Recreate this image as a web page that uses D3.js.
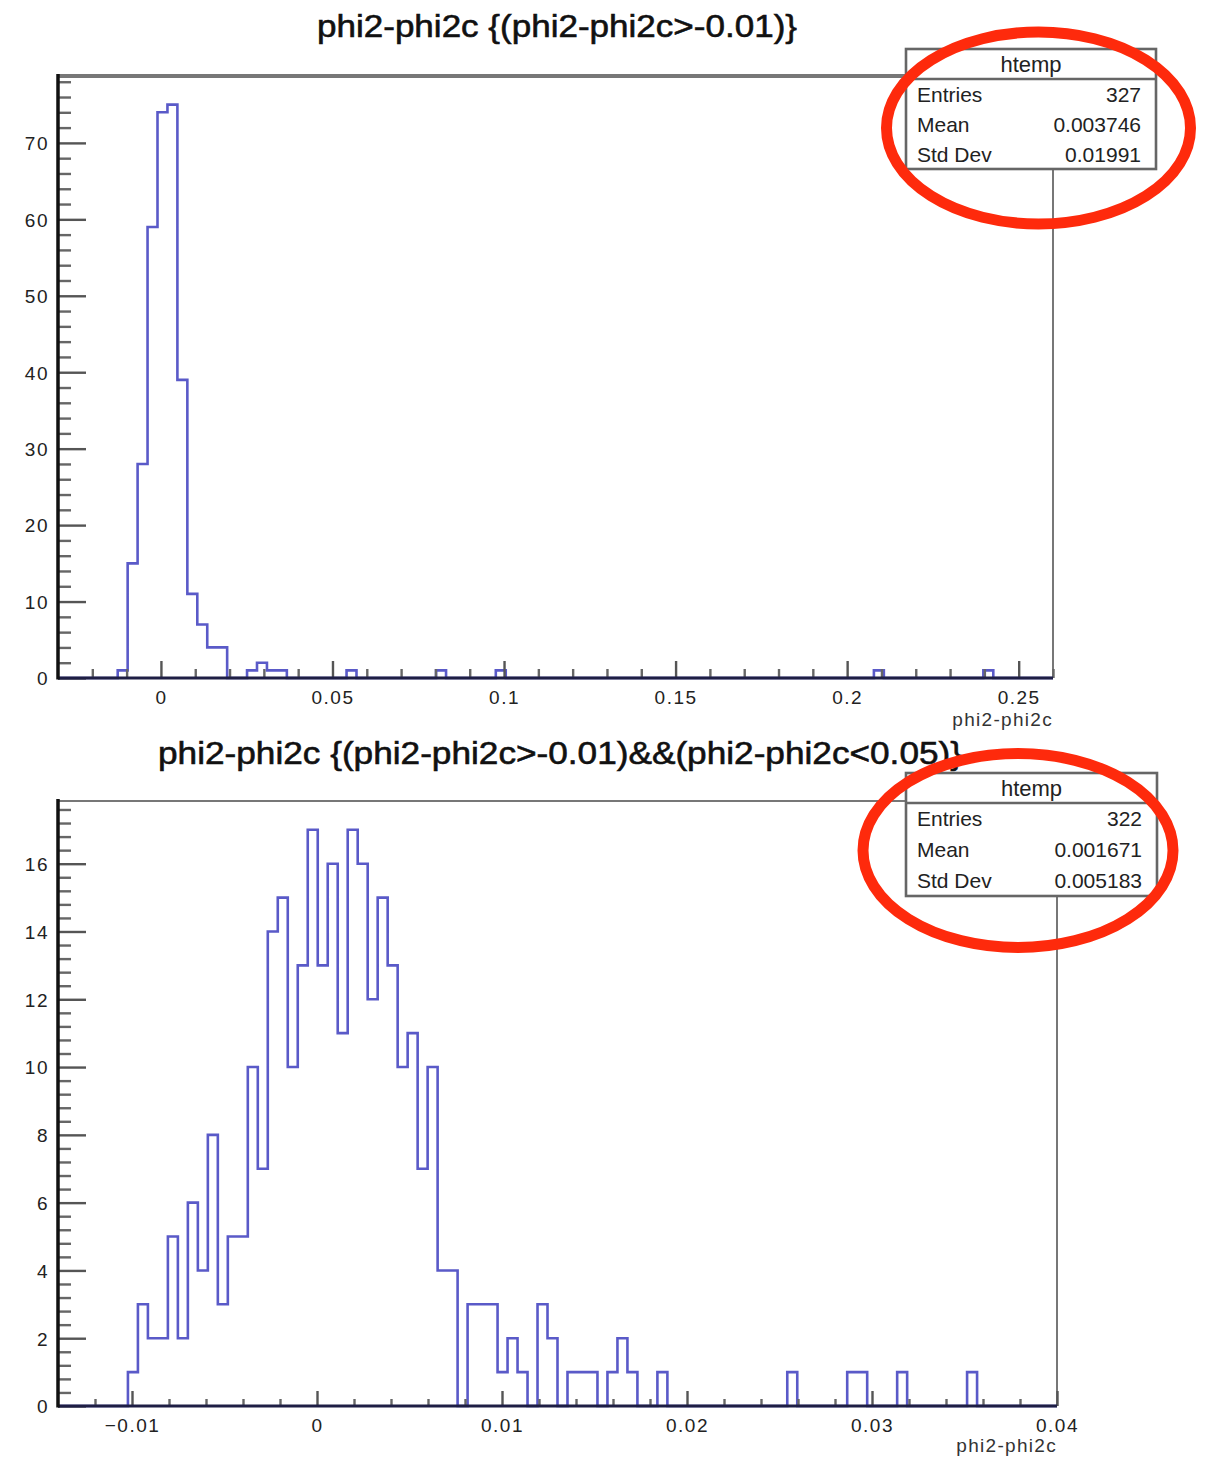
<!DOCTYPE html>
<html>
<head>
<meta charset="utf-8">
<script src="https://cdn.jsdelivr.net/npm/d3@7/dist/d3.min.js"></script>
<style>
body { margin: 0; background: #fff; }
text { font-family: "Liberation Sans", Arial, Helvetica, sans-serif; }
</style>
</head>
<body>
<div id="chart"></div>
<script>
// bin contents (100 bins each)
var topCounts = [
  0, 0, 0, 0, 0, 0, 1, 15, 28, 59,
  74, 75, 39, 11, 7, 4, 4, 0, 0, 1,
  2, 1, 1, 0, 0, 0, 0, 0, 0, 1,
  0, 0, 0, 0, 0, 0, 0, 0, 1, 0,
  0, 0, 0, 0, 1, 0, 0, 0, 0, 0,
  0, 0, 0, 0, 0, 0, 0, 0, 0, 0,
  0, 0, 0, 0, 0, 0, 0, 0, 0, 0,
  0, 0, 0, 0, 0, 0, 0, 0, 0, 0,
  0, 0, 1, 0, 0, 0, 0, 0, 0, 0,
  0, 0, 0, 1, 0, 0, 0, 0, 0, 0
];
var bottomCounts = [
  0, 0, 0, 0, 0, 0, 0, 1, 3, 2,
  2, 5, 2, 6, 4, 8, 3, 5, 5, 10,
  7, 14, 15, 10, 13, 17, 13, 16, 11, 17,
  16, 12, 15, 13, 10, 11, 7, 10, 4, 4,
  0, 3, 3, 3, 1, 2, 1, 0, 3, 2,
  0, 1, 1, 1, 0, 1, 2, 1, 0, 0,
  1, 0, 0, 0, 0, 0, 0, 0, 0, 0,
  0, 0, 0, 1, 0, 0, 0, 0, 0, 1,
  1, 0, 0, 0, 1, 0, 0, 0, 0, 0,
  0, 1, 0, 0, 0, 0, 0, 0, 0, 0
];
var topRange = [-0.03, 0.26];
var bottomRange = [-0.014, 0.04];

var topXTicks = [0, 0.05, 0.1, 0.15, 0.2, 0.25];
var topXLabels = ["0", "0.05", "0.1", "0.15", "0.2", "0.25"];
var topYTicks = [0, 10, 20, 30, 40, 50, 60, 70];
var bottomXTicks = [-0.01, 0, 0.01, 0.02, 0.03, 0.04];
var bottomXLabels = ["\u22120.01", "0", "0.01", "0.02", "0.03", "0.04"];
var bottomYTicks = [0, 2, 4, 6, 8, 10, 12, 14, 16];

var topTitle = "phi2-phi2c {(phi2-phi2c>-0.01)}";
var bottomTitle = "phi2-phi2c {(phi2-phi2c>-0.01)&&(phi2-phi2c<0.05)}";
var axisTitle = "phi2-phi2c";
var statHeader = "htemp";
var statNames = ["Entries", "Mean", "Std Dev"];
var topStats = ["327", "0.003746", "0.01991"];
var bottomStats = ["322", "0.001671", "0.005183"];

var svg = d3.select("#chart").append("svg")
  .attr("width", 1208)
  .attr("height", 1457)
  .style("display", "block");

svg.append("rect").attr("width", 1208).attr("height", 1457).attr("fill", "#fff");

function drawPanel(o) {
  var x = d3.scaleLinear().domain(o.range).range([o.left, o.right]);
  var ymax = 1.05 * d3.max(o.counts);
  var y = d3.scaleLinear().domain([0, ymax]).range([o.base, o.top]);
  var g = svg.append("g");

  // frame (top + right)
  g.append("line").attr("x1", o.left).attr("x2", o.right).attr("y1", o.top).attr("y2", o.top)
    .attr("stroke", "#777").attr("stroke-width", o.frameTop);
  g.append("line").attr("x1", o.right).attr("x2", o.right).attr("y1", o.top).attr("y2", o.base)
    .attr("stroke", "#777").attr("stroke-width", 2);

  // histogram outline
  var n = o.counts.length;
  var w = (o.range[1] - o.range[0]) / n;
  var pts = [[o.range[0], 0]];
  o.counts.forEach(function(c, i) { pts.push([o.range[0] + i * w, c]); });
  pts.push([o.range[1], o.counts[n - 1]]);
  pts.push([o.range[1], 0]);
  var line = d3.line()
    .x(function(d) { return x(d[0]); })
    .y(function(d) { return y(d[1]); })
    .curve(d3.curveStepAfter);
  g.append("path").attr("d", line(pts))
    .attr("fill", "none").attr("stroke", "#5a5ac8").attr("stroke-width", 2.6);

  // minor ticks
  var xMinor = d3.range(Math.ceil(o.range[0] / o.xMinor + 1e-9), Math.floor(o.range[1] / o.xMinor + 1e-9) + 1)
    .map(function(i) { return i * o.xMinor; })
    .filter(function(v) { return Math.abs(v / o.xMajor - Math.round(v / o.xMajor)) > 1e-6; })
    .filter(function(v) { return x(v) > o.left + 3; });
  var yMinor = d3.range(1, Math.floor(ymax / o.yMinor) + 1)
    .map(function(i) { return i * o.yMinor; })
    .filter(function(v) { return Math.abs(v / o.yMajor - Math.round(v / o.yMajor)) > 1e-6; });

  var gxm = g.append("g").attr("transform", "translate(0," + o.base + ")")
    .call(d3.axisBottom(x).tickValues(xMinor).tickSize(-o.xMinorLen).tickSizeOuter(0).tickFormat(""));
  var gx = g.append("g").attr("transform", "translate(0," + o.base + ")")
    .call(d3.axisBottom(x).tickValues(o.xTicks).tickSize(-o.xMajorLen).tickSizeOuter(0).tickPadding(13)
      .tickFormat(function(d, i) { return o.xLabels[i]; }));

  var gym = g.append("g").attr("transform", "translate(" + o.left + ",0)")
    .call(d3.axisLeft(y).tickValues(yMinor).tickSize(-13).tickSizeOuter(0).tickFormat(""));
  var gy = g.append("g").attr("transform", "translate(" + o.left + ",0)")
    .call(d3.axisLeft(y).tickValues(o.yTicks).tickSize(-28).tickSizeOuter(0).tickPadding(9));

  [gxm, gx, gym, gy].forEach(function(a) {
    a.selectAll(".domain").remove();
    a.selectAll(".tick line").attr("stroke", "#555").attr("stroke-width", 2.4);
    a.selectAll(".tick text").attr("fill", "#222").style("font-size", "19px")
      .style("letter-spacing", "1.5px").attr("font-family", null);
  });
  gxm.selectAll(".tick line").attr("stroke", "#666");
  gym.selectAll(".tick line").attr("stroke", "#666");
  gy.selectAll(".tick text").attr("dy", "0.36em");

  // axis lines
  g.append("line").attr("x1", o.left).attr("x2", o.right).attr("y1", o.base).attr("y2", o.base)
    .attr("stroke", "#1e1e44").attr("stroke-width", 3);
  g.append("line").attr("x1", o.left).attr("x2", o.left).attr("y1", o.top - 2).attr("y2", o.base + 1.5)
    .attr("stroke", "#111").attr("stroke-width", 3.5);

  // axis title
  g.append("text").attr("x", o.right).attr("y", o.base + o.axisTitleDy)
    .attr("text-anchor", "end").attr("fill", "#333")
    .style("font-size", "19px").style("letter-spacing", "1.3px")
    .text(axisTitle);

  // title
  g.append("text").attr("x", o.titleX).attr("y", o.titleY)
    .attr("text-anchor", "middle").attr("fill", "#111")
    .attr("textLength", o.titleLen).attr("lengthAdjust", "spacingAndGlyphs")
    .style("font-size", "32px")
    .style("stroke", "#111").style("stroke-width", "0.6px")
    .text(o.title);

  // stats box
  var b = o.box;
  var sb = g.append("g");
  sb.append("rect").attr("x", b.x).attr("y", b.y).attr("width", b.w).attr("height", b.h)
    .attr("fill", "#fff").attr("stroke", "#666").attr("stroke-width", 2.6);
  sb.append("line").attr("x1", b.x).attr("x2", b.x + b.w).attr("y1", b.y + b.hdr).attr("y2", b.y + b.hdr)
    .attr("stroke", "#666").attr("stroke-width", 2.6);
  sb.append("text").attr("x", b.x + b.w / 2).attr("y", b.y + b.hdr / 2).attr("dy", "0.36em")
    .attr("text-anchor", "middle").attr("fill", "#222").style("font-size", "22px")
    .text(statHeader);
  var rowH = (b.h - b.hdr) / 3;
  statNames.forEach(function(nm, i) {
    var cy = b.y + b.hdr + rowH * (i + 0.5);
    sb.append("text").attr("x", b.x + 11).attr("y", cy).attr("dy", "0.36em")
      .attr("fill", "#222").style("font-size", "21px").text(nm);
    sb.append("text").attr("x", b.x + b.w - 15).attr("y", cy).attr("dy", "0.36em")
      .attr("text-anchor", "end").attr("fill", "#222").style("font-size", "21px")
      .text(o.stats[i]);
  });

  // red marker ellipse drawn over the stats box
  var e = o.ellipse;
  g.append("ellipse").attr("cx", e.cx).attr("cy", e.cy).attr("rx", e.rx).attr("ry", e.ry)
    .attr("fill", "none").attr("stroke", "#fe2a0c").attr("stroke-width", 11);
}

drawPanel({
  counts: topCounts, range: topRange,
  left: 58, right: 1053, top: 76, base: 678, frameTop: 4,
  xTicks: topXTicks, xLabels: topXLabels, xMajor: 0.05, xMinor: 0.01,
  xMajorLen: 17, xMinorLen: 9,
  yTicks: topYTicks, yMajor: 10, yMinor: 2,
  axisTitleDy: 48,
  title: topTitle, titleX: 557, titleY: 37, titleLen: 480,
  stats: topStats,
  box: { x: 906, y: 49, w: 250, h: 120, hdr: 30 },
  ellipse: { cx: 1038.5, cy: 128, rx: 152, ry: 96 }
});

drawPanel({
  counts: bottomCounts, range: bottomRange,
  left: 58, right: 1057, top: 801, base: 1406, frameTop: 2,
  xTicks: bottomXTicks, xLabels: bottomXLabels, xMajor: 0.01, xMinor: 0.002,
  xMajorLen: 15, xMinorLen: 7,
  yTicks: bottomYTicks, yMajor: 2, yMinor: 0.4,
  axisTitleDy: 46,
  title: bottomTitle, titleX: 560, titleY: 764, titleLen: 804,
  stats: bottomStats,
  box: { x: 906, y: 773, w: 251, h: 123, hdr: 30 },
  ellipse: { cx: 1018, cy: 850.5, rx: 155, ry: 97 }
});
</script>
</body>
</html>
